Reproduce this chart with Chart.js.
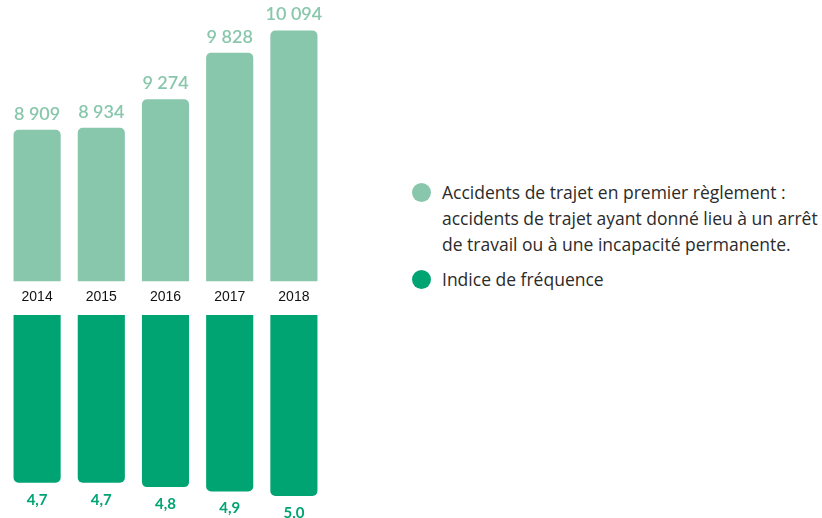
<!DOCTYPE html>
<html lang="fr">
<head>
<meta charset="utf-8">
<title>Accidents de trajet</title>
<script src="https://cdn.jsdelivr.net/npm/chart.js@4.4.1/dist/chart.umd.min.js"></script>
<style>
  html, body { margin: 0; padding: 0; background: #fff; }
  #wrap { position: relative; width: 822px; height: 518px; overflow: hidden; }
  #topChart { position: absolute; left: 0; top: 0; }
  #bottomChart { position: absolute; left: 0; top: 315px; }
  .legend { position: absolute; left: 412px; font-family: "Open Sans", Lato, sans-serif; font-size: 17.5px; color: #2b2b2b; line-height: 26px; }
  .legend .dot { position: absolute; left: 0; top: 4px; width: 19px; height: 19px; border-radius: 50%; }
  .legend .txt { margin-left: 30px; white-space: nowrap; }
</style>
</head>
<body>
<div id="wrap">
  <canvas id="topChart" width="326" height="318"></canvas>
  <canvas id="bottomChart" width="326" height="203"></canvas>

  <div class="legend" style="top:179px;">
    <span class="dot" style="background:#88c7ab;"></span>
    <div class="txt">Accidents de trajet en premier règlement :<br>accidents de trajet ayant donné lieu à un arrêt<br>de travail ou à une incapacité permanente.</div>
  </div>
  <div class="legend" style="top:266px;">
    <span class="dot" style="background:#00a472;"></span>
    <div class="txt">Indice de fréquence</div>
  </div>
</div>

<script>
var years = ['2014', '2015', '2016', '2017', '2018'];
var accidents = [8909, 8934, 9274, 9828, 10094];
var frequence = [4.7, 4.7, 4.8, 4.9, 5.0];

var lightGreen = '#88c7ab';
var darkGreen = '#00a472';

function spaced(n) {
    return String(n).replace(/\B(?=(\d{3})+(?!\d))/g, ' ');
}

function comma(n) {
    return n.toFixed(1).replace('.', ',');
}

// writes each bar's value just past the end of the bar
function valueLabels(format, color, font, offset) {
    return {
        id: 'valueLabels',
        afterDatasetsDraw: function(chart) {
            var ctx = chart.ctx;
            var meta = chart.getDatasetMeta(0);
            var data = chart.data.datasets[0].data;
            ctx.save();
            ctx.fillStyle = color;
            ctx.font = font;
            ctx.textAlign = 'center';
            ctx.textBaseline = 'middle';
            meta.data.forEach(function(bar, i) {
                ctx.fillText(format(data[i]), bar.x, bar.y + offset);
            });
            ctx.restore();
        }
    };
}

new Chart(document.getElementById('topChart'), {
    type: 'bar',
    data: {
        labels: years,
        datasets: [{
            data: accidents,
            backgroundColor: lightGreen,
            borderRadius: 5,
            borderSkipped: false,
            categoryPercentage: 1,
            barPercentage: 0.734
        }]
    },
    options: {
        responsive: false,
        animation: false,
        events: [],
        layout: { padding: { left: 5, top: 5, right: 0, bottom: 4 } },
        plugins: { legend: { display: false }, tooltip: { enabled: false } },
        scales: {
            x: {
                grid: { display: false, drawTicks: false },
                border: { display: false },
                ticks: {
                    padding: 8,
                    color: '#111',
                    font: { family: '"Liberation Sans", Arial, sans-serif', size: 14 }
                }
            },
            y: { display: false, min: 7100, max: 10400 }
        }
    },
    plugins: [valueLabels(spaced, lightGreen, '600 18px Lato, "Open Sans", sans-serif', -16)]
});

new Chart(document.getElementById('bottomChart'), {
    type: 'bar',
    data: {
        labels: years,
        datasets: [{
            data: frequence,
            backgroundColor: darkGreen,
            borderRadius: 5,
            borderSkipped: false,
            categoryPercentage: 1,
            barPercentage: 0.734
        }]
    },
    options: {
        responsive: false,
        animation: false,
        events: [],
        layout: { padding: { left: 5, top: 0, right: 0, bottom: 0 } },
        plugins: { legend: { display: false }, tooltip: { enabled: false } },
        scales: {
            x: { display: false },
            y: { display: false, reverse: true, min: 0.9, max: 5.5 }
        }
    },
    plugins: [valueLabels(comma, darkGreen, 'bold 15px Lato, "Open Sans", sans-serif', 17)]
});
</script>
</body>
</html>
